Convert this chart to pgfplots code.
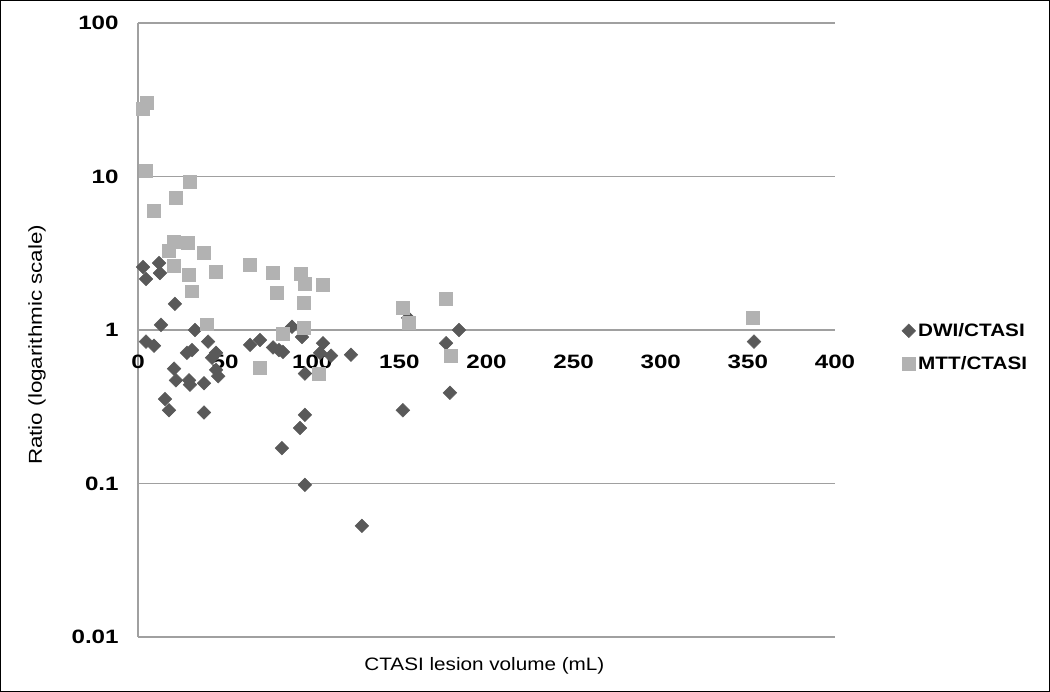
\documentclass[border=0pt]{standalone}
\usepackage{fontspec}
\setmainfont{Liberation Sans}
\usepackage{graphicx}
\usepackage{pgfplots}
\pgfplotsset{compat=1.18}
\definecolor{dwi}{RGB}{89,89,89}
\definecolor{mtt}{RGB}{178,178,178}
\definecolor{gridc}{RGB}{160,160,160}
\newcommand\sx[1]{\scalebox{1.15}[1]{#1}}
\newcommand\sxt[1]{\scalebox{1.25}[1]{#1}}
\begin{document}
\begin{tikzpicture}
\begin{axis}[
  name=ax,
  scale only axis,
  width=522.75pt, height=460.5pt,
  xmin=0, xmax=400, ymin=0.01, ymax=100,
  ymode=log,
  clip=false,
  axis x line=middle,
  axis y line=left,
  axis line style={-, draw=gridc, line width=0.8pt},
  hide obscured x ticks=false,
  major tick length=0pt, minor tick length=0pt,
  xtick={0,50,100,150,200,250,300,350,400},
  xticklabels={\sxt{0},\sxt{50},\sxt{100},\sxt{150},\sxt{200},\sxt{250},\sxt{300},\sxt{350},\sxt{400}},
  ytick={0.01,0.1,1,10,100},
  yticklabels={\sxt{0.01},\sxt{0.1},\sxt{1},\sxt{10},\sxt{100}},
  minor ytick={},
  ymajorgrids,
  major grid style={draw=gridc, line width=0.8pt},
  tick label style={font=\bfseries\fontsize{14.5}{16}\selectfont},
  xticklabel style={yshift=-15.5pt},
  yticklabel style={xshift=-11pt},
  every axis x label/.style={at={(axis description cs:0.497,0)}, anchor=north, yshift=-12pt, font=\fontsize{13.5}{15}\selectfont},
  every axis y label/.style={at={(axis description cs:0,0.476)}, xshift=-75.75pt, rotate=90, anchor=center, font=\fontsize{14}{16}\selectfont},
  xlabel={\sx{CTASI lesion volume (mL)}},
  ylabel={\scalebox{1.2}[1]{Ratio (logarithmic scale)}},
  legend style={draw=none, fill=none, at={(1.090,0.52)}, anchor=north west,
    font=\bfseries\fontsize{13.5}{15}\selectfont, row sep=9.5pt},
  legend cell align=left,
]
\addplot[only marks, mark=square*, mark size=3.6pt, mark options={rotate=45, fill=dwi, draw=dwi}] coordinates {
(2.9,2.57) (4.6,2.15) (12.1,2.73) (12.6,2.35) (21.2,1.48) (13.2,1.08)
(32.7,1.0) (88.4,1.05) (4.6,0.84) (9.2,0.79) (20.7,0.56) (21.8,0.47)
(15.5,0.355) (17.8,0.30) (28.1,0.71) (31,0.74) (29.3,0.47) (29.8,0.44)
(37.9,0.45) (37.9,0.29) (40.2,0.84) (44.8,0.71) (42.5,0.66) (44.8,0.55)
(46,0.50) (64.3,0.80) (70,0.86) (77.5,0.77) (80.9,0.74) (83.2,0.72)
(94.1,0.90) (95.8,0.52) (95.8,0.28) (93,0.23) (82.6,0.17) (95.8,0.098)
(106.2,0.82) (104.5,0.71) (110.8,0.68) (122.2,0.69) (128.5,0.053)
(152,0.30) (155,1.2) (176.8,0.82) (184.2,1.0) (179,0.39) (353.5,0.84)
};
\addlegendentry{\sx{DWI/CTASI}}
\addplot[only marks, mark=square*, mark size=4.8pt, mark options={fill=mtt, draw=mtt}] coordinates {
(2.9,27.5) (5.2,30.1) (4.6,10.9) (9.2,5.96) (21.8,7.24) (29.8,9.2)
(17.8,3.27) (20.7,3.74) (28.7,3.69) (20.7,2.61) (29.3,2.28) (31,1.79)
(37.9,3.17) (44.8,2.39) (39.6,1.09) (64.3,2.65) (77.5,2.35) (79.8,1.74)
(93.5,2.32) (95.8,1.99) (95.3,1.5) (106.2,1.96) (95.3,1.03) (83.2,0.94)
(70,0.57) (103.9,0.52) (152,1.39) (155.5,1.11) (176.8,1.59) (179.6,0.68)
(353,1.2)
};
\addlegendentry{\sx{MTT/CTASI}}
\end{axis}
\draw[black, line width=0.75pt] ([shift={(-103.125pt,-40.875pt)}]ax.south west) rectangle ([shift={(160.875pt,16.875pt)}]ax.north east);
\end{tikzpicture}
\end{document}
